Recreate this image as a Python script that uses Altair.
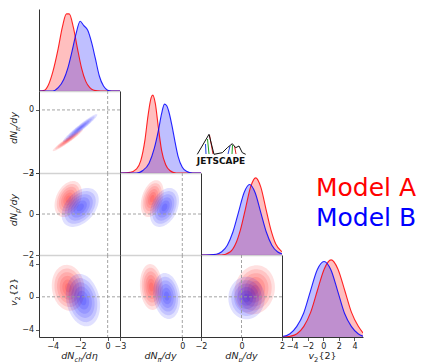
import numpy as np
import pandas as pd
import altair as alt

RED = "#ff0000"
BLUE = "#0000ff"
W, H = 81, 82
FONT = "DejaVu Sans"

# ---------------- axis ranges and ticks ----------------
DOM_X = {"A": [-5.0, 0.9], "B": [-3.0, 0.9], "C": [-2.0, 2.0], "D": [-5.3, 5.1]}
DOM_Y = {"B": [-3.0, 0.9], "C": [-2.0, 2.0], "D": [-4.9, 5.1]}
TICKS = {"A": [-4, -2, 0], "B": [-3, -2, -1, 0], "C": [-2, -1, 0, 1, 2], "D": [-4, -2, 0, 2, 4]}

# ---------------- 1D marginals (height as fraction of panel) ----------------
A_x_red = [-5.0, -4.6, -4.3, -4.0, -3.6, -3.3, -3.0, -2.8, -2.5, -2.2, -1.9, -1.6, -1.3, -1.0, -0.5, 0.9]
A_d_red = [0.0, 0.01, 0.08, 0.23, 0.52, 0.78, 0.94, 0.94, 0.78, 0.52, 0.28, 0.12, 0.04, 0.01, 0.0, 0.0]
A_x_blue = [-5.0, -4.0, -3.6, -3.2, -2.9, -2.6, -2.3, -2.0, -1.75, -1.45, -1.15, -0.9, -0.6, -0.3, 0.0, 0.3, 0.9]
A_d_blue = [0.0, 0.0, 0.04, 0.14, 0.28, 0.48, 0.70, 0.85, 0.80, 0.74, 0.58, 0.40, 0.18, 0.06, 0.01, 0.0, 0.0]

B_x_red = [-3.0, -2.5, -2.2, -2.0, -1.8, -1.65, -1.5, -1.42, -1.3, -1.15, -1.0, -0.8, -0.6, -0.3, 0.9]
B_d_red = [0.0, 0.01, 0.05, 0.15, 0.40, 0.70, 0.92, 0.95, 0.85, 0.55, 0.28, 0.10, 0.03, 0.0, 0.0]
B_x_blue = [-3.0, -2.2, -1.9, -1.6, -1.35, -1.15, -1.0, -0.86, -0.75, -0.65, -0.5, -0.35, -0.2, 0.0, 0.2, 0.5, 0.9]
B_d_blue = [0.0, 0.0, 0.03, 0.12, 0.30, 0.52, 0.72, 0.84, 0.82, 0.75, 0.58, 0.38, 0.20, 0.07, 0.02, 0.0, 0.0]

C_x_red = [-2.0, -1.0, -0.55, -0.3, -0.05, 0.2, 0.45, 0.7, 0.95, 1.2, 1.45, 1.7, 1.95, 2.0]
C_d_red = [0.0, 0.0, 0.04, 0.13, 0.31, 0.57, 0.83, 0.94, 0.83, 0.57, 0.31, 0.13, 0.05, 0.04]
C_x_blue = [-2.0, -1.25, -0.975, -0.7, -0.425, -0.15, 0.125, 0.4, 0.675, 0.95, 1.225, 1.5, 1.775, 2.0]
C_d_blue = [0.0, 0.01, 0.04, 0.12, 0.28, 0.52, 0.76, 0.86, 0.76, 0.52, 0.28, 0.12, 0.04, 0.015]

D_x_red = [-5.3, -4.25, -3.375, -2.5, -1.625, -0.75, 0.125, 1.0, 1.875, 2.75, 3.625, 4.5, 5.1]
D_d_red = [0.0, 0.01, 0.04, 0.13, 0.30, 0.57, 0.83, 0.94, 0.83, 0.57, 0.30, 0.13, 0.05]
D_x_blue = [-5.3, -5.15, -4.275, -3.4, -2.525, -1.65, -0.775, 0.1, 0.975, 1.85, 2.725, 3.6, 4.475, 5.1]
D_d_blue = [0.01, 0.01, 0.04, 0.13, 0.29, 0.56, 0.82, 0.92, 0.82, 0.56, 0.29, 0.13, 0.04, 0.01]

MARG = {
    "A": (A_x_red, A_d_red, A_x_blue, A_d_blue),
    "B": (B_x_red, B_d_red, B_x_blue, B_d_blue),
    "C": (C_x_red, C_d_red, C_x_blue, C_d_blue),
    "D": (D_x_red, D_d_red, D_x_blue, D_d_blue),
}

# ---------------- 2D contour blobs: centre x, centre y, half-extent x, half-extent y, correlation ----------------
PAIRS = ["B|A", "C|A", "D|A", "C|B", "D|B", "D|C"]
red_cx = [-2.90, -2.87, -2.87, -1.45, -1.49, 0.65]
red_cy = [-1.44, 0.73, 1.10, 0.75, 1.20, 0.85]
red_sx = [1.10, 1.00, 1.20, 0.55, 0.55, 1.00]
red_sy = [0.52, 0.88, 2.80, 0.90, 2.80, 3.00]
red_rho = [0.96, 0.35, -0.10, 0.35, -0.10, 0.10]
blue_cx = [-2.00, -2.00, -1.80, -0.86, -0.75, 0.25]
blue_cy = [-0.86, 0.32, -0.40, 0.32, 0.10, -0.15]
blue_sx = [1.25, 1.35, 1.25, 0.70, 0.65, 0.90]
blue_sy = [0.66, 0.95, 3.20, 0.95, 2.80, 2.60]
blue_rho = [0.96, 0.40, -0.20, 0.35, -0.15, 0.00]
LEVELS = [1.0, 0.84, 0.68, 0.52, 0.36, 0.2]

# ---------------- logo and legend ----------------
logo_x = [-3.7, 8.0, 13.0, 21.3, 26.3, 31.3, 34.7, 38.0, 41.3, 44.7]
logo_y = [63.3, 43.3, 63.3, 61.7, 56.7, 52.7, 56.7, 55.0, 61.7, 63.3]
strand_x0 = [8.5, 6.5, 4.5, 29.0, 31.5, 33.5]
strand_y0 = [44.0, 48.0, 53.0, 55.0, 54.0, 55.0]
strand_x1 = [12.0, 8.0, 5.0, 27.0, 31.0, 35.0]
strand_y1 = [63.0, 63.0, 63.0, 63.0, 63.0, 63.0]
strand_c = ["#e02020", "#20a020", "#2040e0", "#2040e0", "#20a020", "#e02020"]
legend_labels = ["Model A", "Model B"]
legend_colors = [RED, BLUE]

# advance widths (em) for DejaVu Sans
ADV = {"d": 0.635, "N": 0.748, "c": 0.550, "h": 0.634, "/": 0.337, "η": 0.634, "y": 0.592,
       "π": 0.602, "p": 0.635, "v": 0.592, "2": 0.636, "{": 0.636, "}": 0.636}
MAIN, SUB = 9.5, 6.7
TITLES = {
    "A": [("dN", MAIN, 0), ("ch", SUB, 2.5), ("/dη", MAIN, 0)],
    "B": [("dN", MAIN, 0), ("π", SUB, 2.5), ("/dy", MAIN, 0)],
    "C": [("dN", MAIN, 0), ("p", SUB, 2.5), ("/dy", MAIN, 0)],
    "D": [("v", MAIN, 0), ("2", SUB, 2.5), ("{2}", MAIN, 0)],
}


def title_layers(var, x, y, angle):
    pieces = TITLES[var]
    widths = [sum(ADV.get(ch, 0.6) for ch in t) * s for t, s, _ in pieces]
    off = -sum(widths) / 2
    out = []
    for (t, s, dy), w in zip(pieces, widths):
        style = "normal" if (var == "D" and t != "v") else "italic"
        out.append(
            alt.Chart(pd.DataFrame({"t": [t]}))
            .mark_text(align="left", baseline="alphabetic", font=FONT, fontStyle=style,
                       fontSize=s, dx=off, dy=dy, angle=angle, color="#222")
            .encode(x=alt.value(x), y=alt.value(y), text="t:N")
        )
        off += w
    return out


def x_axis(var, bottom):
    if bottom:
        return alt.Axis(values=TICKS[var], format="d", title=None, grid=False, labelFont=FONT,
                        labelFontSize=8, labelColor="#222", labelPadding=2, labelFlush=False,
                        labelOverlap=False, tickColor="#333", tickSize=3.5, tickWidth=0.8,
                        domainColor="#333", domainWidth=1, zindex=1)
    return alt.Axis(title=None, grid=False, labels=False, ticks=False,
                    domainColor="#d2d2d2", domainWidth=1.5)


def y_axis(var, labeled):
    if labeled:
        return alt.Axis(values=TICKS[var], format="d", title=None, grid=False, labelFont=FONT,
                        labelFontSize=8, labelColor="#222", labelPadding=2, labelFlush=False,
                        labelOverlap=False, tickColor="#333", tickSize=3.5, tickWidth=0.8,
                        domainColor="#333", domainWidth=1, zindex=1)
    return alt.Axis(title=None, grid=False, labels=False, ticks=False,
                    domainColor="#333", domainWidth=1, zindex=1)


def diag(var, bottom):
    xr, dr, xb, db = MARG[var]
    xs = alt.X("x:Q", scale=alt.Scale(domain=DOM_X[var], nice=False, zero=False), axis=x_axis(var, bottom))
    ys = alt.Y("d:Q", scale=alt.Scale(domain=[0, 1], nice=False), axis=y_axis(None, False), stack=None)
    dfs = [(pd.DataFrame({"x": xr, "d": dr}), RED), (pd.DataFrame({"x": xb, "d": db}), BLUE)]
    layers = []
    for df, col in dfs:
        layers.append(alt.Chart(df).mark_area(color=col, opacity=0.25, interpolate="monotone", clip=True)
                      .encode(x=xs, y=ys))
    for df, col in dfs:
        layers.append(alt.Chart(df).mark_line(color=col, strokeWidth=1.1, opacity=0.85,
                                              interpolate="monotone", clip=True).encode(x=xs, y=ys))
    if bottom:
        layers += title_layers(var, W / 2, H + 22, 0)
    return alt.layer(*layers).properties(width=W, height=H)


def blob_frame(cx, cy, sx, sy, rho):
    rows = []
    for k, s in enumerate(LEVELS):
        for t in np.linspace(0, np.pi, 41):
            u = -np.cos(t)
            half = s * sy * np.sqrt(1 - rho ** 2) * np.sqrt(max(0.0, 1 - u * u))
            ym = cy + s * sy * rho * u
            rows.append({"x": cx + s * sx * u, "ylo": ym - half, "yhi": ym + half, "level": str(k)})
    return pd.DataFrame(rows)


def pair(yvar, xvar, bottom, left):
    i = PAIRS.index(yvar + "|" + xvar)
    xs = alt.X("x:Q", scale=alt.Scale(domain=DOM_X[xvar], nice=False, zero=False), axis=x_axis(xvar, bottom))
    ys = alt.Y("yhi:Q", scale=alt.Scale(domain=DOM_Y[yvar], nice=False, zero=False),
               axis=y_axis(yvar, left), stack=None)
    layers = []
    for params, col in (((red_cx, red_cy, red_sx, red_sy, red_rho), RED),
                        ((blue_cx, blue_cy, blue_sx, blue_sy, blue_rho), BLUE)):
        df = blob_frame(*(p[i] for p in params))
        layers.append(alt.Chart(df).mark_area(color=col, opacity=0.12, clip=True)
                      .encode(x=xs, y=ys, y2="ylo:Q", detail="level:N"))
    zero = pd.DataFrame({"z": [0]})
    layers.append(alt.Chart(zero).mark_rule(color="#9a9a9a", strokeDash=[3, 2], strokeWidth=0.9)
                  .encode(x=alt.datum(0)))
    layers.append(alt.Chart(zero).mark_rule(color="#9a9a9a", strokeDash=[3, 2], strokeWidth=0.9)
                  .encode(y=alt.datum(0)))
    if bottom:
        layers += title_layers(xvar, W / 2, H + 22, 0)
    if left:
        layers += title_layers(yvar, -22, H / 2 - 4, 270)
    return alt.layer(*layers).properties(width=W, height=H)


def blank():
    return (alt.Chart(pd.DataFrame({"t": [""]})).mark_text()
            .encode(text="t:N").properties(width=W, height=H))


def logo_cell():
    lx = alt.X("x:Q", scale=alt.Scale(domain=[0, W], nice=False, zero=False), axis=None)
    ly = alt.Y("y:Q", scale=alt.Scale(domain=[0, H], nice=False, zero=False, reverse=True), axis=None)
    outline = alt.Chart(pd.DataFrame({"x": logo_x, "y": logo_y, "o": list(range(len(logo_x)))})) \
        .mark_line(color="#111", strokeWidth=1).encode(x=lx, y=ly, order="o:Q")
    rows = []
    for k in range(len(strand_x0)):
        rows.append({"x": strand_x0[k], "y": strand_y0[k], "seg": k, "c": strand_c[k], "o": 0})
        rows.append({"x": strand_x1[k], "y": strand_y1[k], "seg": k, "c": strand_c[k], "o": 1})
    strands = alt.Chart(pd.DataFrame(rows)).mark_line(strokeWidth=1).encode(
        x=lx, y=ly, detail="seg:N", order="o:Q", color=alt.Color("c:N", scale=None))
    word = alt.Chart(pd.DataFrame({"t": ["JETSCAPE"]})).mark_text(
        font=FONT, fontWeight="bold", fontSize=9, color="#111", align="center", baseline="alphabetic"
    ).encode(x=alt.value(20), y=alt.value(73.3), text="t:N")
    return alt.layer(strands, outline, word).properties(width=W, height=H)


def legend_cell():
    layers = []
    for k, (lab, col) in enumerate(zip(legend_labels, legend_colors)):
        layers.append(alt.Chart(pd.DataFrame({"t": [lab]})).mark_text(
            font=FONT, fontSize=25, color=col, align="left", baseline="alphabetic"
        ).encode(x=alt.value(34), y=alt.value(23 + 30 * k), text="t:N"))
    return alt.layer(*layers).properties(width=W, height=H)


cells = [
    diag("A", False), blank(), blank(), blank(),
    pair("B", "A", False, True), diag("B", False), logo_cell(), blank(),
    pair("C", "A", False, True), pair("C", "B", False, False), diag("C", False), legend_cell(),
    pair("D", "A", True, True), pair("D", "B", True, False), pair("D", "C", True, False), diag("D", True),
]

chart = (
    alt.concat(*cells, columns=4, spacing=0, bounds="flush")
    .properties(padding={"left": 8, "top": 8, "right": 0, "bottom": 0}, background="white")
    .configure_view(stroke="transparent")
)

chart.save("out.html", embed_options={"renderer": "svg", "actions": False})
